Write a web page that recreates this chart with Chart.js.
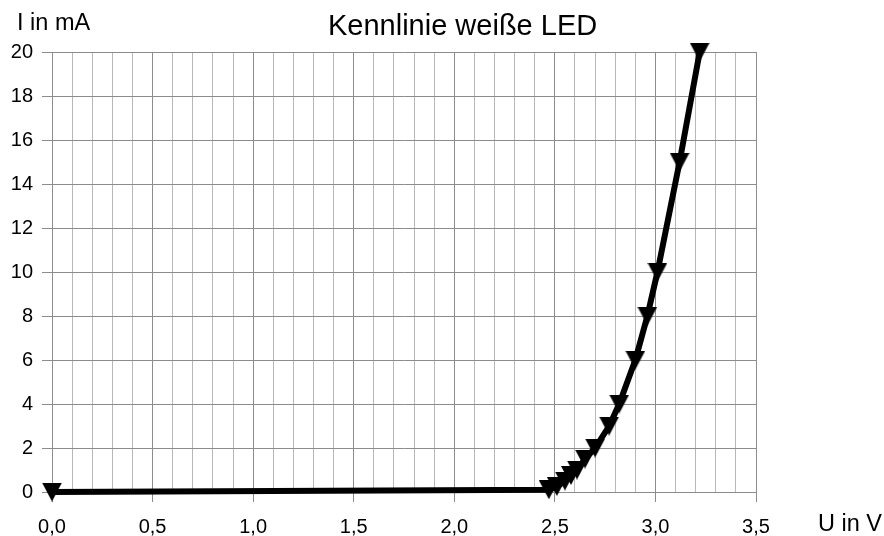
<!DOCTYPE html>
<html>
<head>
<meta charset="utf-8">
<title>Kennlinie weiße LED</title>
<script src="https://cdn.jsdelivr.net/npm/chart.js@4"></script>
<style>
  html, body { margin: 0; padding: 0; background: #fff; }
  #wrap { width: 884px; height: 536px; }
</style>
</head>
<body>
<div id="wrap"><canvas id="ledChart" width="884" height="536"></canvas></div>
<script>
const spannung = [0, 2.47, 2.51, 2.55, 2.58, 2.61, 2.65, 2.70, 2.77, 2.82, 2.90, 2.96, 3.01, 3.12, 3.22];
const strom    = [0, 0.1, 0.25, 0.5, 0.75, 1.0, 1.5, 2.0, 3.0, 4.0, 6.0, 8.0, 10.0, 15.0, 20.0];

const titel = 'Kennlinie weiße LED';
const yTitel = 'I in mA';
const xTitel = 'U in V';

const fontFamily = '"Liberation Sans", Arial, sans-serif';

// Dreieck (Spitze nach unten) als Punktsymbol
function makeTriangle() {
    const c = document.createElement('canvas');
    c.width = 20;
    c.height = 19;
    const g = c.getContext('2d');
    g.fillStyle = '#000';
    g.beginPath();
    g.moveTo(0, 0);
    g.lineTo(20, 0);
    g.lineTo(10, 19);
    g.closePath();
    g.fill();
    return c;
}

function isMajor(v) {
    return Math.abs(v * 2 - Math.round(v * 2)) < 1e-6;
}

const textPlugin = {
    id: 'texte',
    afterDraw(chart) {
        const ctx = chart.ctx;
        ctx.save();
        ctx.fillStyle = '#000';
        ctx.textBaseline = 'alphabetic';
        ctx.textAlign = 'left';
        ctx.font = '29px ' + fontFamily;
        ctx.fillText(titel, 328, 35);
        ctx.font = '23.5px ' + fontFamily;
        ctx.fillText(yTitel, 17, 30);
        ctx.fillText(xTitel, 818, 531);
        ctx.restore();
    }
};

const punkte = spannung.map((u, i) => ({ x: u, y: strom[i] }));

new Chart(document.getElementById('ledChart'), {
    type: 'line',
    data: {
        datasets: [{
            data: punkte,
            borderColor: '#000',
            backgroundColor: '#000',
            borderWidth: 6,
            tension: 0,
            pointStyle: makeTriangle(),
            pointRadius: 10,
            pointHoverRadius: 10,
            clip: false
        }]
    },
    options: {
        responsive: false,
        animation: false,
        events: [],
        layout: { padding: { top: 52, right: 128, bottom: 0, left: 0 } },
        plugins: {
            legend: { display: false },
            title: { display: false },
            tooltip: { enabled: false }
        },
        scales: {
            x: {
                type: 'linear',
                min: 0,
                max: 3.5,
                afterFit: function(scale) { scale.height = 44; },
                border: { display: true, color: '#8c8c8c' },
                grid: {
                    color: function(c) { return isMajor(c.tick.value) ? '#8c8c8c' : '#b8b8b8'; },
                    tickColor: function(c) { return isMajor(c.tick.value) ? '#8c8c8c' : 'rgba(0,0,0,0)'; },
                    tickLength: 10,
                    lineWidth: 1
                },
                ticks: {
                    stepSize: 0.1,
                    autoSkip: false,
                    maxRotation: 0,
                    padding: 13,
                    color: '#000',
                    font: { family: fontFamily, size: 20 },
                    callback: function(v) {
                        return isMajor(v) ? v.toFixed(1).replace('.', ',') : '';
                    }
                }
            },
            y: {
                min: 0,
                max: 20,
                afterFit: function(scale) { scale.width = 52; },
                border: { display: true, color: '#8c8c8c' },
                grid: {
                    color: '#8c8c8c',
                    tickColor: '#8c8c8c',
                    tickLength: 10,
                    lineWidth: 1
                },
                ticks: {
                    stepSize: 2,
                    padding: 9,
                    color: '#000',
                    font: { family: fontFamily, size: 20 }
                }
            }
        }
    },
    plugins: [textPlugin]
});
</script>
</body>
</html>
